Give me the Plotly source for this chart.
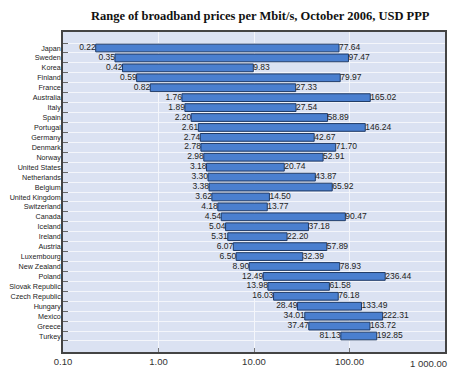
import plotly.graph_objects as go
import math

countries = ["Japan", "Sweden", "Korea", "Finland", "France", "Australia", "Italy", "Spain",
             "Portugal", "Germany", "Denmark", "Norway", "United States", "Netherlands",
             "Belgium", "United Kingdom", "Switzerland", "Canada", "Iceland", "Ireland",
             "Austria", "Luxembourg", "New Zealand", "Poland", "Slovak Republic",
             "Czech Republic", "Hungary", "Mexico", "Greece", "Turkey"]
min_price = [0.22, 0.35, 0.42, 0.59, 0.82, 1.76, 1.89, 2.20, 2.61, 2.74, 2.78, 2.98, 3.18,
             3.30, 3.38, 3.62, 4.18, 4.54, 5.04, 5.31, 6.07, 6.50, 8.90, 12.49, 13.98,
             16.03, 28.49, 34.01, 37.47, 81.13]
max_price = [77.64, 97.47, 9.83, 79.97, 27.33, 165.02, 27.54, 58.89, 146.24, 42.67, 71.70,
             52.91, 20.74, 43.87, 65.92, 14.50, 13.77, 90.47, 37.18, 22.20, 57.89, 32.39,
             78.93, 236.44, 61.58, 76.18, 133.49, 222.31, 163.72, 192.85]
tick_vals = [0.1, 1, 10, 100, 1000]
tick_text = ["0.10", "1.00", "10.00", "100.00", "1 000.00"]

sans = "Liberation Sans, Arial, sans-serif"
lab_font = dict(family=sans, size=8.5, color="#222222")

fig = go.Figure()
fig.add_trace(go.Bar(
    y=countries, x=[b - a for a, b in zip(min_price, max_price)], base=min_price,
    orientation="h", marker=dict(color="#4a7fcf", line=dict(color="#1f3a66", width=1)),
    hoverinfo="skip", showlegend=False))
fig.add_trace(go.Scatter(
    y=countries, x=min_price, mode="text", text=[f"{v:.2f}" for v in min_price],
    textposition="middle left", textfont=lab_font, showlegend=False, hoverinfo="skip"))
fig.add_trace(go.Scatter(
    y=countries, x=max_price, mode="text", text=[f"{v:.2f}" for v in max_price],
    textposition="middle right", textfont=lab_font, showlegend=False, hoverinfo="skip"))

# the page body adds an 8px margin, so the figure is sized/offset to compensate
fig.update_layout(
    width=444, height=369,
    margin=dict(l=55, r=7, t=24, b=25),
    paper_bgcolor="white", plot_bgcolor="#dbe2f2",
    bargap=0.22,
    title=dict(text="<b>Range of broadband prices per Mbit/s, October 2006, USD PPP</b>",
               x=0.568, xanchor="center", y=0.978, yanchor="middle",
               font=dict(family="Liberation Serif, DejaVu Serif, serif", size=12.5, color="#111111")),
    xaxis=dict(type="log", range=[-1, 3], tickvals=tick_vals[:-1], ticktext=tick_text[:-1],
               showgrid=True, gridcolor="#f4f6fb", gridwidth=1,
               ticks="inside", ticklen=4, tickcolor="#777777",
               showline=True, linecolor="#444444", linewidth=1.5, mirror=True,
               tickfont=dict(family=sans, size=9.5, color="#333333"),
               zeroline=False, fixedrange=True, automargin=False),
    yaxis=dict(type="category", autorange="reversed", tickson="boundaries",
               tickmode="array", tickvals=countries,
               ticks="inside", ticklen=5, tickcolor="#666666",
               showgrid=True, gridcolor="#f4f6fb", gridwidth=1,
               showline=True, linecolor="#444444", linewidth=1.5, mirror=True,
               ticklabelstandoff=-1,
               tickfont=dict(family=sans, size=7.2, color="#222222"),
               fixedrange=True, automargin=False),
)
fig.add_annotation(x=math.log10(tick_vals[-1]), y=0, xref="x", yref="paper",
                   text=tick_text[-1], showarrow=False, yanchor="top", yshift=-4,
                   xanchor="right", xshift=4,
                   font=dict(family=sans, size=9.5, color="#333333"))
fig.write_html("out.html")
